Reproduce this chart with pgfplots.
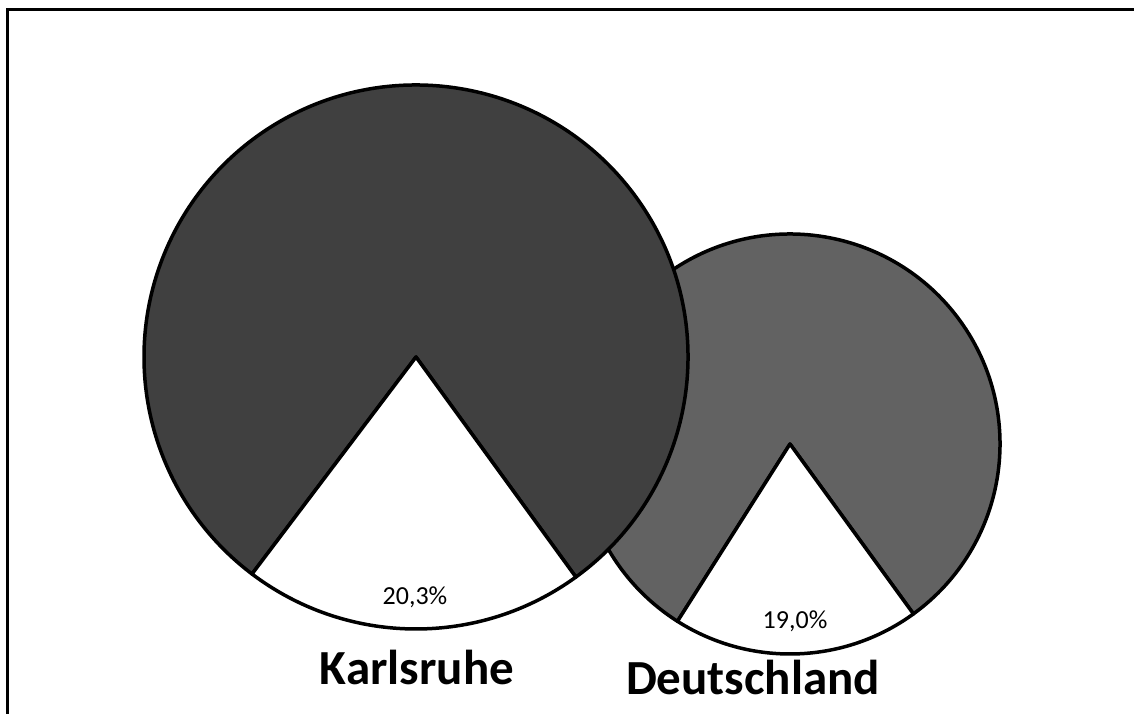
\documentclass[border=0pt]{standalone}
\usepackage{fontspec}
\setmainfont{Carlito}
\usepackage{pgfplots}
\pgfplotsset{compat=1.18}

\definecolor{kadark}{HTML}{404040}
\definecolor{demid}{HTML}{626262}

% pie: centre x, centre y, radius, share in %, colour; the share is the white slice,
% whose right edge lies at 306 degrees
\newcommand{\pieslice}[5]{%
  \filldraw[fill=#5, draw=black, line width=3.5pt, line join=round]
    (axis cs:#1,#2) -- ++(306:#3pt)
    arc[start angle=306, end angle={666-3.6*#4}, radius=#3pt] -- cycle;
  \filldraw[fill=white, draw=black, line width=3.5pt, line join=round]
    (axis cs:#1,#2) -- ++({306-3.6*#4}:#3pt)
    arc[start angle={306-3.6*#4}, end angle=306, radius=#3pt] -- cycle;
}

\begin{document}
\begin{tikzpicture}
\begin{axis}[
  x=1pt, y=1pt,
  xmin=0, xmax=1134, ymin=0, ymax=714,
  scale only axis,
  hide axis,
  clip=false,
]
% frame
\draw[line width=3pt] (axis cs:7,0) -- (axis cs:7,704) -- (axis cs:1134,704);

% Deutschland first, Karlsruhe lies on top
\pieslice{790}{270}{210}{19.0}{demid}
\pieslice{416}{357}{272}{20.3}{kadark}

\node[anchor=base, font=\fontsize{26}{30}\selectfont] at (axis cs:415,109) {20,3\%};
\node[anchor=base, font=\fontsize{26}{30}\selectfont] at (axis cs:795,85) {19,0\%};
\node[anchor=base, font=\fontsize{49}{58}\selectfont\bfseries] at (axis cs:417,29) {Karlsruhe};
\node[anchor=base, font=\fontsize{49}{58}\selectfont\bfseries] at (axis cs:753,19) {Deutschland};
\end{axis}
\pgfresetboundingbox
\path[use as bounding box] (0,0) rectangle (1134pt,714pt);
\end{tikzpicture}
\end{document}
